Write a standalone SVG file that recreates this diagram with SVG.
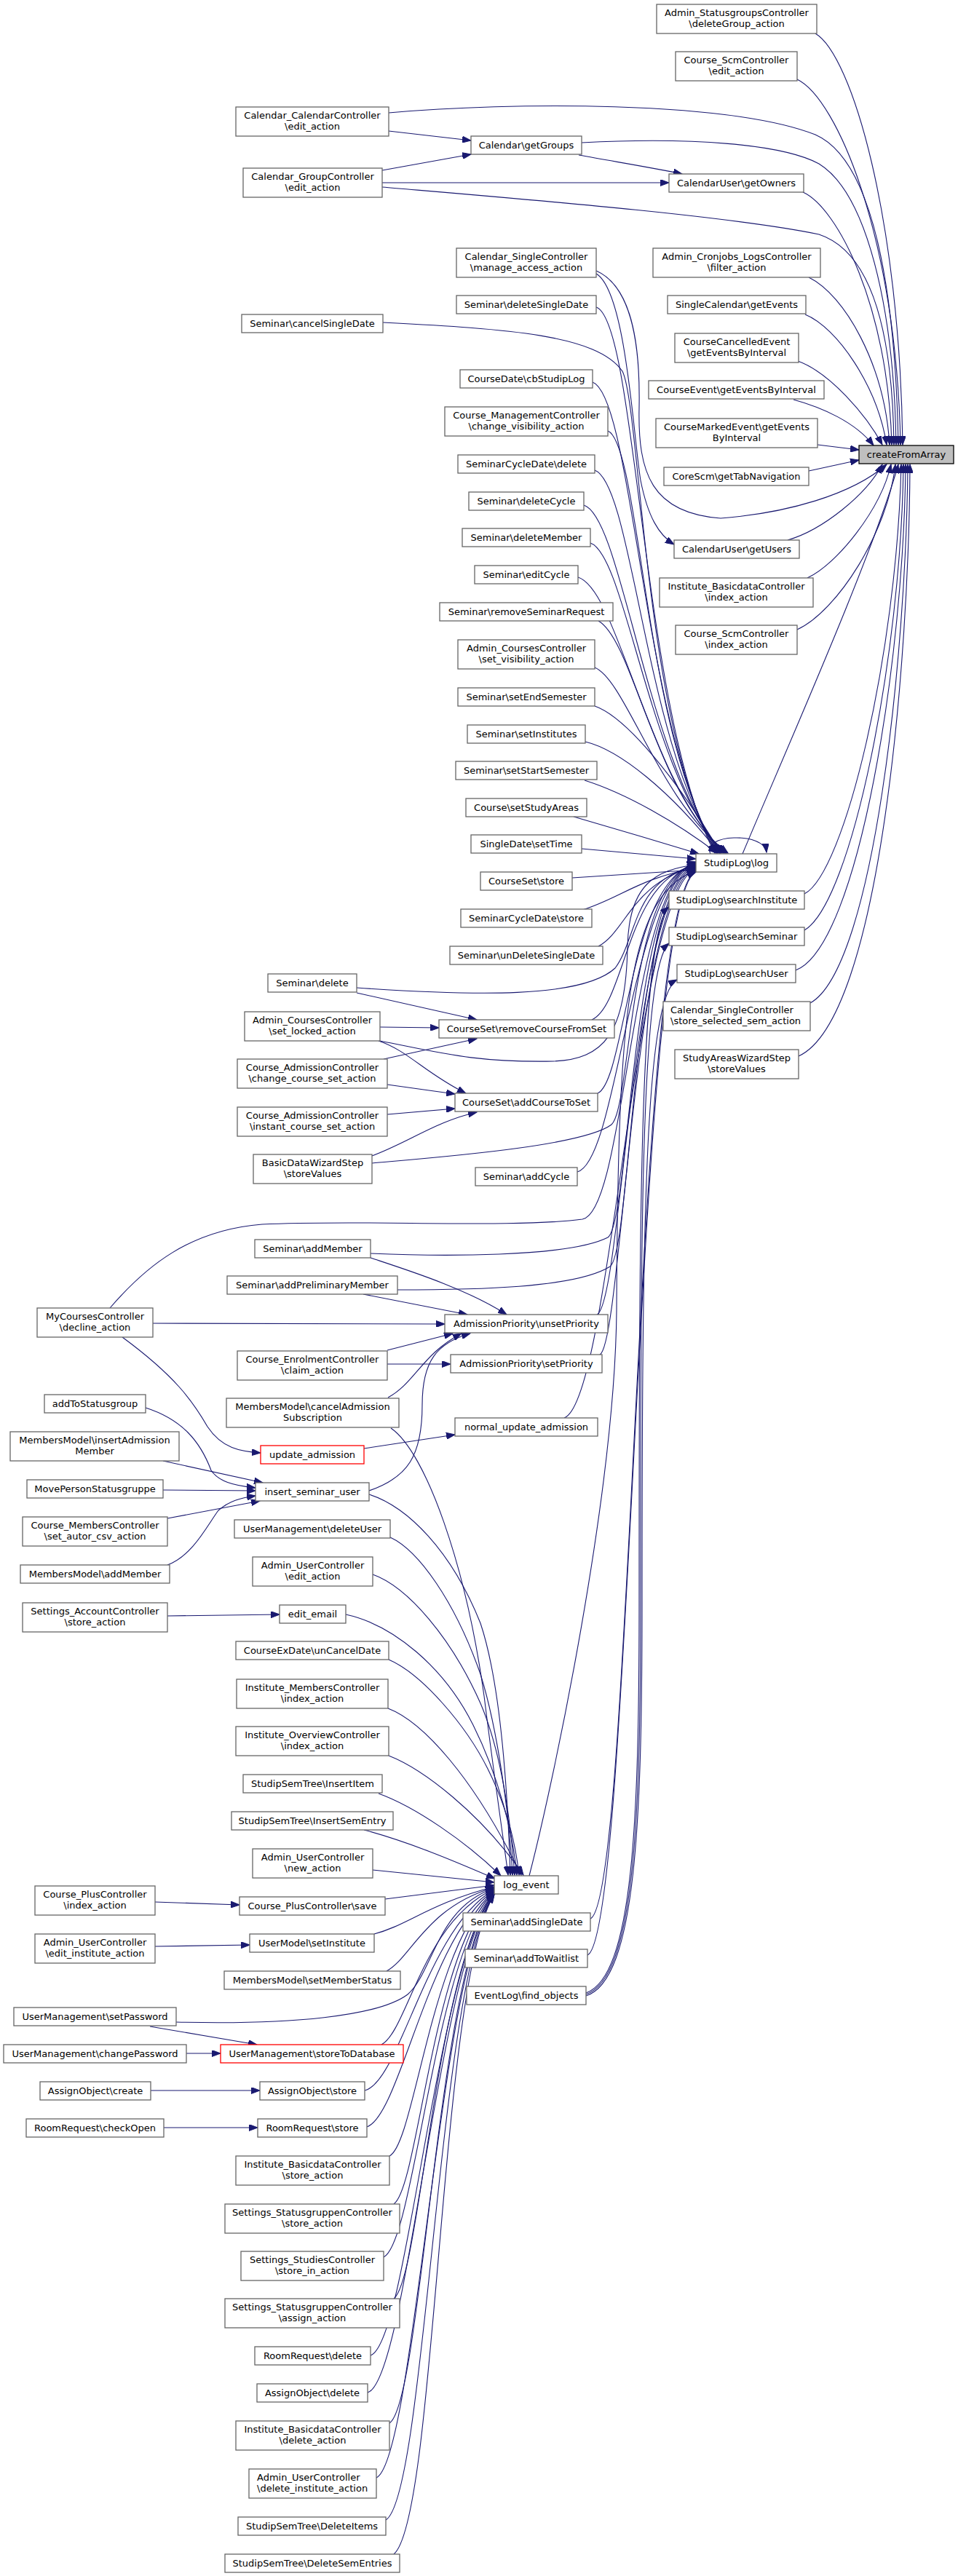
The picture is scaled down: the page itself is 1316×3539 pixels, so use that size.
<svg xmlns="http://www.w3.org/2000/svg" width="1316" height="3539" viewBox="0 0 1316 3539">
<style>
.n rect{fill:#fff;stroke:#666;stroke-width:1.3}
.r rect{fill:#fff;stroke:#ff0000;stroke-width:1.3}
.root rect{fill:#bfbfbf;stroke:#000;stroke-width:1.3}
text{font-family:"DejaVu Sans",Verdana,sans-serif;font-size:13px;fill:#000;text-anchor:middle}
text.l{text-anchor:start}
.e path{fill:none;stroke:#191970;stroke-width:1.1;marker-end:url(#a)}
</style>
<defs>
<marker id="a" markerUnits="userSpaceOnUse" markerWidth="13" markerHeight="9" refX="12" refY="4.5" orient="auto" viewBox="0 0 13 9"><path d="M0,0 L12,4.5 L0,9 z" fill="#191970" stroke="#191970" stroke-width="1"/></marker>
</defs>
<rect x="0" y="0" width="1316" height="3539" fill="#fff"/>
<g id="edges" class="e">
<path d="M1120,46 C1170,75 1236,300 1240,611"/>
<path d="M1095,109 C1150,135 1232,330 1237,611"/>
<path d="M534,155 C700,140 1000,138 1120,185 C1200,220 1230,400 1234,611"/>
<path d="M799,196 C950,188 1075,198 1125,225 C1190,265 1228,420 1231,611"/>
<path d="M525,257 C700,272 1000,296 1125,322 C1195,345 1226,450 1228,611"/>
<path d="M1103,264 C1150,285 1220,420 1225,611"/>
<path d="M1111,381 C1160,405 1215,500 1222,611"/>
<path d="M1106,432 C1150,450 1205,530 1218,611"/>
<path d="M1096,496 C1140,512 1190,570 1212,611"/>
<path d="M1090,549 C1130,560 1175,580 1200,612"/>
<path d="M1123,611 L1180,618"/>
<path d="M1111,647 L1180,632"/>
<path d="M1082,742 C1130,728 1190,680 1212,638"/>
<path d="M819,372 C860,390 880,450 878,560 C876,650 895,705 990,712 C1080,705 1170,680 1218,638"/>
<path d="M1109,794 C1150,775 1210,700 1224,638"/>
<path d="M1095,865 C1150,840 1220,730 1230,638"/>
<path d="M1020,1173 C1080,1030 1200,760 1234,638"/>
<path d="M1105,1228 C1160,1200 1232,900 1238,638"/>
<path d="M1105,1278 C1170,1240 1238,900 1241,638"/>
<path d="M1093,1333 C1180,1300 1242,900 1244,638"/>
<path d="M1113,1378 C1200,1330 1245,900 1247,638"/>
<path d="M1097,1451 C1210,1400 1249,900 1250,638"/>
<path d="M534,180 L647,193"/>
<path d="M525,234 L647,212"/>
<path d="M795,213 C850,223 900,231 937,239"/>
<path d="M525,251 L919,251"/>
<path d="M819,376 C860,400 870,600 880,660 C890,710 905,735 926,748"/>
<path d="M819,422 C875,440 882,985 982,1172"/>
<path d="M526,443 C700,452 820,460 855,510 C880,560 885,1000 984,1172"/>
<path d="M814,525 C870,545 884,1010 986,1172"/>
<path d="M835,592 C880,610 886,1025 988,1172"/>
<path d="M817,646 C870,665 888,1040 990,1172"/>
<path d="M802,694 C855,710 888,1050 992,1172"/>
<path d="M811,746 C860,762 892,1065 994,1172"/>
<path d="M794,793 C850,810 890,1075 996,1172"/>
<path d="M822,853 C870,880 900,1090 998,1172"/>
<path d="M817,917 C860,935 905,1100 1000,1172"/>
<path d="M817,970 C860,985 930,1070 990,1172"/>
<path d="M804,1019 C850,1030 920,1085 988,1172"/>
<path d="M803,1072 C860,1090 930,1130 985,1172"/>
<path d="M788,1122 C850,1140 900,1155 960,1173"/>
<path d="M799,1166 L956,1180"/>
<path d="M786,1206 L956,1195"/>
<path d="M800,1250 C850,1235 880,1205 956,1193"/>
<path d="M822,1300 C860,1280 870,1210 956,1191"/>
<path d="M490,1357 C650,1368 800,1372 845,1330 C875,1290 870,1205 956,1190"/>
<path d="M813,1401 C860,1380 860,1205 956,1189"/>
<path d="M522,1430 C600,1445 650,1460 760,1458 C830,1455 860,1420 862,1300 C864,1215 900,1195 956,1188"/>
<path d="M821,1502 C860,1485 864,1205 956,1187"/>
<path d="M511,1598 C600,1590 800,1575 840,1545 C868,1520 862,1210 956,1186"/>
<path d="M793,1610 C850,1595 866,1210 956,1185"/>
<path d="M151,1797 C200,1740 260,1690 360,1682 C500,1675 700,1688 800,1675 C860,1665 866,1210 956,1184"/>
<path d="M509,1722 C600,1726 780,1728 835,1700 C866,1680 866,1212 956,1186"/>
<path d="M546,1772 C650,1772 790,1770 838,1740 C868,1720 868,1214 956,1188"/>
<path d="M820,1806 C855,1790 868,1216 956,1190"/>
<path d="M824,1861 C855,1845 870,1218 956,1192"/>
<path d="M775,1948 C840,1925 872,1220 956,1194"/>
<path d="M727,2577 C760,2450 845,2050 847,1800 C849,1400 860,1230 956,1196"/>
<path d="M811,2636 C870,2610 872,1230 956,1197"/>
<path d="M807,2686 C868,2660 874,1232 956,1198"/>
<path d="M805,2738 C870,2715 878,2500 878,2200 C878,1700 878,1280 919,1246"/>
<path d="M805,2740 C872,2717 880,2500 880,2200 C880,1700 880,1330 919,1296"/>
<path d="M805,2742 C874,2720 882,2500 882,2200 C882,1700 885,1370 930,1346"/>
<path d="M537,1962 C585,1995 640,2150 665,2330 C680,2450 692,2530 698,2576"/>
<path d="M507,2053 C560,2070 620,2130 660,2230 C690,2320 698,2480 701,2576"/>
<path d="M536,2112 C575,2130 625,2200 660,2300 C685,2380 700,2500 704,2576"/>
<path d="M512,2163 C560,2180 620,2250 660,2340 C690,2410 702,2510 707,2576"/>
<path d="M475,2218 C540,2232 610,2290 650,2370 C685,2440 705,2520 710,2576"/>
<path d="M534,2280 C580,2300 640,2370 670,2430 C695,2480 708,2530 713,2576"/>
<path d="M533,2347 C580,2365 650,2440 716,2576"/>
<path d="M534,2412 C580,2430 660,2490 719,2576"/>
<path d="M520,2464 C570,2482 640,2530 688,2577"/>
<path d="M500,2514 C560,2530 620,2555 680,2581"/>
<path d="M512,2569 C580,2576 630,2581 679,2586"/>
<path d="M529,2609 L679,2590"/>
<path d="M514,2657 C560,2645 590,2615 679,2592"/>
<path d="M531,2708 C565,2690 585,2620 679,2593"/>
<path d="M242,2778 C400,2782 520,2770 560,2740 C595,2710 600,2620 679,2594"/>
<path d="M524,2809 C560,2790 580,2640 679,2595"/>
<path d="M501,2872 C550,2860 585,2650 679,2596"/>
<path d="M504,2922 C550,2906 588,2660 679,2597"/>
<path d="M535,2962 C570,2945 592,2670 679,2598"/>
<path d="M541,3028 C575,3005 594,2680 679,2599"/>
<path d="M527,3101 C570,3080 596,2690 679,2600"/>
<path d="M541,3158 C578,3130 598,2700 679,2600"/>
<path d="M509,3236 C560,3220 598,2700 679,2601"/>
<path d="M505,3287 C560,3270 600,2700 679,2601"/>
<path d="M535,3329 C580,3300 600,2710 679,2602"/>
<path d="M517,3404 C570,3380 602,2710 679,2602"/>
<path d="M530,3462 C585,3430 602,2720 679,2602"/>
<path d="M541,3509 C600,3460 604,2720 679,2603"/>
<path d="M490,1364 L655,1401"/>
<path d="M522,1411 L603,1412"/>
<path d="M520,1430 C560,1443 585,1475 640,1502"/>
<path d="M527,1455 L655,1427"/>
<path d="M532,1490 L625,1503"/>
<path d="M532,1531 L625,1523"/>
<path d="M511,1588 C560,1570 600,1540 655,1528"/>
<path d="M509,1728 C560,1745 640,1770 696,1806"/>
<path d="M499,1778 L642,1806"/>
<path d="M210,1818 L611,1819"/>
<path d="M168,1837 C240,1890 265,1925 285,1960 C305,1990 330,1994 358,1996"/>
<path d="M532,1855 L622,1832"/>
<path d="M532,1874 L619,1874"/>
<path d="M533,1920 C570,1900 580,1860 634,1832"/>
<path d="M507,2048 C560,2030 580,2000 580,1930 C580,1870 600,1845 646,1832"/>
<path d="M500,1990 L625,1971"/>
<path d="M200,1934 C250,1950 275,1980 290,2020 C300,2035 320,2041 351,2044"/>
<path d="M224,2007 L361,2037"/>
<path d="M224,2047 L351,2048"/>
<path d="M230,2086 L357,2062"/>
<path d="M230,2150 C265,2137 285,2095 300,2075 C315,2062 330,2058 351,2055"/>
<path d="M230,2220 L384,2218"/>
<path d="M213,2613 L329,2617"/>
<path d="M213,2674 L343,2672"/>
<path d="M206,2784 L353,2809"/>
<path d="M256,2821 L303,2821"/>
<path d="M207,2872 L357,2872"/>
<path d="M225,2923 L354,2923"/>
<path d="M976,1173 C962,1146 1050,1142 1053,1171"/>
</g>
<g id="n_createFromArray" class="root"><rect x="1180" y="612" width="130" height="25"/><text x="1245" y="629">createFromArray</text></g>
<g id="n_A1" class="n"><rect x="902" y="6" width="220" height="40"/><text x="1012" y="22">Admin_StatusgroupsController</text><text x="1012" y="37">\deleteGroup_action</text></g>
<g id="n_A2" class="n"><rect x="928" y="71" width="167" height="40"/><text x="1011.5" y="87">Course_ScmController</text><text x="1011.5" y="102">\edit_action</text></g>
<g id="n_A3" class="n"><rect x="919" y="239" width="185" height="25"/><text x="1011.5" y="256">CalendarUser\getOwners</text></g>
<g id="n_A4" class="n"><rect x="897" y="341" width="230" height="40"/><text x="1012" y="357">Admin_Cronjobs_LogsController</text><text x="1012" y="372">\filter_action</text></g>
<g id="n_A5" class="n"><rect x="917" y="406" width="190" height="25"/><text x="1012" y="423">SingleCalendar\getEvents</text></g>
<g id="n_A6" class="n"><rect x="927" y="458" width="170" height="40"/><text x="1012" y="474">CourseCancelledEvent</text><text x="1012" y="489">\getEventsByInterval</text></g>
<g id="n_A7" class="n"><rect x="891" y="523" width="241" height="25"/><text x="1011.5" y="540">CourseEvent\getEventsByInterval</text></g>
<g id="n_A8" class="n"><rect x="901" y="575" width="222" height="40"/><text x="1012" y="591">CourseMarkedEvent\getEvents</text><text x="1012" y="606">ByInterval</text></g>
<g id="n_A9" class="n"><rect x="912" y="642" width="199" height="25"/><text x="1011.5" y="659">CoreScm\getTabNavigation</text></g>
<g id="n_A10" class="n"><rect x="926" y="742" width="172" height="25"/><text x="1012" y="759">CalendarUser\getUsers</text></g>
<g id="n_A11" class="n"><rect x="906" y="794" width="211" height="40"/><text x="1011.5" y="810">Institute_BasicdataController</text><text x="1011.5" y="825">\index_action</text></g>
<g id="n_A12" class="n"><rect x="928" y="859" width="167" height="40"/><text x="1011.5" y="875">Course_ScmController</text><text x="1011.5" y="890">\index_action</text></g>
<g id="n_A13" class="n"><rect x="956" y="1173" width="111" height="25"/><text x="1011.5" y="1190">StudipLog\log</text></g>
<g id="n_A14" class="n"><rect x="919" y="1224" width="186" height="25"/><text x="1012" y="1241">StudipLog\searchInstitute</text></g>
<g id="n_A15" class="n"><rect x="919" y="1274" width="186" height="25"/><text x="1012" y="1291">StudipLog\searchSeminar</text></g>
<g id="n_A16" class="n"><rect x="930" y="1325" width="163" height="25"/><text x="1011.5" y="1342">StudipLog\searchUser</text></g>
<g id="n_A17" class="n"><rect x="911" y="1376" width="202" height="40"/><text class="l" x="921" y="1392">Calendar_SingleController</text><text class="l" x="921" y="1407">\store_selected_sem_action</text></g>
<g id="n_A18" class="n"><rect x="927" y="1442" width="170" height="40"/><text x="1012" y="1458">StudyAreasWizardStep</text><text x="1012" y="1473">\storeValues</text></g>
<g id="n_B1" class="n"><rect x="647" y="187" width="152" height="25"/><text x="723" y="204">Calendar\getGroups</text></g>
<g id="n_B2" class="n"><rect x="627" y="341" width="192" height="40"/><text x="723" y="357">Calendar_SingleController</text><text x="723" y="372">\manage_access_action</text></g>
<g id="n_B3" class="n"><rect x="627" y="406" width="192" height="25"/><text x="723" y="423">Seminar\deleteSingleDate</text></g>
<g id="n_B4" class="n"><rect x="632" y="508" width="182" height="25"/><text x="723" y="525">CourseDate\cbStudipLog</text></g>
<g id="n_B5" class="n"><rect x="611" y="559" width="224" height="40"/><text x="723" y="575">Course_ManagementController</text><text x="723" y="590">\change_visibility_action</text></g>
<g id="n_B6" class="n"><rect x="629" y="625" width="188" height="25"/><text x="723" y="642">SeminarCycleDate\delete</text></g>
<g id="n_B7" class="n"><rect x="644" y="676" width="158" height="25"/><text x="723" y="693">Seminar\deleteCycle</text></g>
<g id="n_B8" class="n"><rect x="635" y="726" width="176" height="25"/><text x="723" y="743">Seminar\deleteMember</text></g>
<g id="n_B9" class="n"><rect x="652" y="777" width="142" height="25"/><text x="723" y="794">Seminar\editCycle</text></g>
<g id="n_B10" class="n"><rect x="604" y="828" width="238" height="25"/><text x="723" y="845">Seminar\removeSeminarRequest</text></g>
<g id="n_B11" class="n"><rect x="629" y="879" width="188" height="40"/><text x="723" y="895">Admin_CoursesController</text><text x="723" y="910">\set_visibility_action</text></g>
<g id="n_B12" class="n"><rect x="629" y="945" width="188" height="25"/><text x="723" y="962">Seminar\setEndSemester</text></g>
<g id="n_B13" class="n"><rect x="642" y="996" width="162" height="25"/><text x="723" y="1013">Seminar\setInstitutes</text></g>
<g id="n_B14" class="n"><rect x="626" y="1046" width="194" height="25"/><text x="723" y="1063">Seminar\setStartSemester</text></g>
<g id="n_B15" class="n"><rect x="640" y="1097" width="166" height="25"/><text x="723" y="1114">Course\setStudyAreas</text></g>
<g id="n_B16" class="n"><rect x="647" y="1147" width="152" height="25"/><text x="723" y="1164">SingleDate\setTime</text></g>
<g id="n_B17" class="n"><rect x="660" y="1198" width="126" height="25"/><text x="723" y="1215">CourseSet\store</text></g>
<g id="n_B18" class="n"><rect x="633" y="1249" width="180" height="25"/><text x="723" y="1266">SeminarCycleDate\store</text></g>
<g id="n_B19" class="n"><rect x="618" y="1300" width="210" height="25"/><text x="723" y="1317">Seminar\unDeleteSingleDate</text></g>
<g id="n_B20" class="n"><rect x="603" y="1401" width="241" height="25"/><text x="723.5" y="1418">CourseSet\removeCourseFromSet</text></g>
<g id="n_B21" class="n"><rect x="625" y="1502" width="196" height="25"/><text x="723" y="1519">CourseSet\addCourseToSet</text></g>
<g id="n_B22" class="n"><rect x="653" y="1604" width="140" height="25"/><text x="723" y="1621">Seminar\addCycle</text></g>
<g id="n_B23" class="n"><rect x="611" y="1806" width="224" height="25"/><text x="723" y="1823">AdmissionPriority\unsetPriority</text></g>
<g id="n_B24" class="n"><rect x="619" y="1861" width="208" height="25"/><text x="723" y="1878">AdmissionPriority\setPriority</text></g>
<g id="n_B25" class="n"><rect x="625" y="1948" width="196" height="25"/><text x="723" y="1965">normal_update_admission</text></g>
<g id="n_B26" class="n"><rect x="679" y="2577" width="88" height="25"/><text x="723" y="2594">log_event</text></g>
<g id="n_B27" class="n"><rect x="636" y="2628" width="175" height="25"/><text x="723.5" y="2645">Seminar\addSingleDate</text></g>
<g id="n_B28" class="n"><rect x="639" y="2678" width="168" height="25"/><text x="723" y="2695">Seminar\addToWaitlist</text></g>
<g id="n_B29" class="n"><rect x="641" y="2729" width="164" height="25"/><text x="723" y="2746">EventLog\find_objects</text></g>
<g id="n_C1" class="n"><rect x="324" y="147" width="210" height="40"/><text x="429" y="163">Calendar_CalendarController</text><text x="429" y="178">\edit_action</text></g>
<g id="n_C2" class="n"><rect x="334" y="231" width="191" height="40"/><text x="429.5" y="247">Calendar_GroupController</text><text x="429.5" y="262">\edit_action</text></g>
<g id="n_C3" class="n"><rect x="332" y="432" width="194" height="25"/><text x="429" y="449">Seminar\cancelSingleDate</text></g>
<g id="n_C4" class="n"><rect x="368" y="1338" width="122" height="25"/><text x="429" y="1355">Seminar\delete</text></g>
<g id="n_C5" class="n"><rect x="336" y="1390" width="186" height="40"/><text x="429" y="1406">Admin_CoursesController</text><text x="429" y="1421">\set_locked_action</text></g>
<g id="n_C6" class="n"><rect x="326" y="1455" width="206" height="40"/><text x="429" y="1471">Course_AdmissionController</text><text x="429" y="1486">\change_course_set_action</text></g>
<g id="n_C7" class="n"><rect x="326" y="1521" width="206" height="40"/><text x="429" y="1537">Course_AdmissionController</text><text x="429" y="1552">\instant_course_set_action</text></g>
<g id="n_C8" class="n"><rect x="348" y="1586" width="163" height="40"/><text x="429.5" y="1602">BasicDataWizardStep</text><text x="429.5" y="1617">\storeValues</text></g>
<g id="n_C9" class="n"><rect x="350" y="1703" width="159" height="25"/><text x="429.5" y="1720">Seminar\addMember</text></g>
<g id="n_C10" class="n"><rect x="312" y="1753" width="234" height="25"/><text x="429" y="1770">Seminar\addPreliminaryMember</text></g>
<g id="n_C11" class="n"><rect x="326" y="1856" width="206" height="40"/><text x="429" y="1872">Course_EnrolmentController</text><text x="429" y="1887">\claim_action</text></g>
<g id="n_C12" class="n"><rect x="311" y="1921" width="237" height="40"/><text x="429.5" y="1937">MembersModel\cancelAdmission</text><text x="429.5" y="1952">Subscription</text></g>
<g id="n_C13" class="r"><rect x="358" y="1986" width="142" height="25"/><text x="429" y="2003">update_admission</text></g>
<g id="n_C14" class="n"><rect x="351" y="2037" width="156" height="25"/><text x="429" y="2054">insert_seminar_user</text></g>
<g id="n_C15" class="n"><rect x="322" y="2088" width="214" height="25"/><text x="429" y="2105">UserManagement\deleteUser</text></g>
<g id="n_C16" class="n"><rect x="347" y="2139" width="165" height="40"/><text x="429.5" y="2155">Admin_UserController</text><text x="429.5" y="2170">\edit_action</text></g>
<g id="n_C17" class="n"><rect x="384" y="2205" width="91" height="25"/><text x="429.5" y="2222">edit_email</text></g>
<g id="n_C18" class="n"><rect x="324" y="2255" width="210" height="25"/><text x="429" y="2272">CourseExDate\unCancelDate</text></g>
<g id="n_C19" class="n"><rect x="325" y="2307" width="208" height="40"/><text x="429" y="2323">Institute_MembersController</text><text x="429" y="2338">\index_action</text></g>
<g id="n_C20" class="n"><rect x="324" y="2372" width="210" height="40"/><text x="429" y="2388">Institute_OverviewController</text><text x="429" y="2403">\index_action</text></g>
<g id="n_C21" class="n"><rect x="334" y="2438" width="191" height="25"/><text x="429.5" y="2455">StudipSemTree\InsertItem</text></g>
<g id="n_C22" class="n"><rect x="318" y="2489" width="222" height="25"/><text x="429" y="2506">StudipSemTree\InsertSemEntry</text></g>
<g id="n_C23" class="n"><rect x="347" y="2540" width="165" height="40"/><text x="429.5" y="2556">Admin_UserController</text><text x="429.5" y="2571">\new_action</text></g>
<g id="n_C24" class="n"><rect x="329" y="2606" width="200" height="25"/><text x="429" y="2623">Course_PlusController\save</text></g>
<g id="n_C25" class="n"><rect x="343" y="2657" width="171" height="25"/><text x="428.5" y="2674">UserModel\setInstitute</text></g>
<g id="n_C26" class="n"><rect x="308" y="2708" width="242" height="25"/><text x="429" y="2725">MembersModel\setMemberStatus</text></g>
<g id="n_C27" class="r"><rect x="303" y="2809" width="251" height="25"/><text x="428.5" y="2826">UserManagement\storeToDatabase</text></g>
<g id="n_C28" class="n"><rect x="357" y="2860" width="144" height="25"/><text x="429" y="2877">AssignObject\store</text></g>
<g id="n_C29" class="n"><rect x="354" y="2911" width="150" height="25"/><text x="429" y="2928">RoomRequest\store</text></g>
<g id="n_C30" class="n"><rect x="324" y="2962" width="211" height="40"/><text x="429.5" y="2978">Institute_BasicdataController</text><text x="429.5" y="2993">\store_action</text></g>
<g id="n_C31" class="n"><rect x="309" y="3028" width="240" height="40"/><text x="429" y="3044">Settings_StatusgruppenController</text><text x="429" y="3059">\store_action</text></g>
<g id="n_C32" class="n"><rect x="331" y="3093" width="196" height="40"/><text x="429" y="3109">Settings_StudiesController</text><text x="429" y="3124">\store_in_action</text></g>
<g id="n_C33" class="n"><rect x="309" y="3158" width="240" height="40"/><text x="429" y="3174">Settings_StatusgruppenController</text><text x="429" y="3189">\assign_action</text></g>
<g id="n_C34" class="n"><rect x="350" y="3224" width="159" height="25"/><text x="429.5" y="3241">RoomRequest\delete</text></g>
<g id="n_C35" class="n"><rect x="353" y="3275" width="152" height="25"/><text x="429" y="3292">AssignObject\delete</text></g>
<g id="n_C36" class="n"><rect x="324" y="3326" width="211" height="40"/><text x="429.5" y="3342">Institute_BasicdataController</text><text x="429.5" y="3357">\delete_action</text></g>
<g id="n_C37" class="n"><rect x="342" y="3392" width="175" height="40"/><text class="l" x="353" y="3408">Admin_UserController</text><text class="l" x="353" y="3423">\delete_institute_action</text></g>
<g id="n_C38" class="n"><rect x="327" y="3458" width="203" height="25"/><text x="428.5" y="3475">StudipSemTree\DeleteItems</text></g>
<g id="n_C39" class="n"><rect x="309" y="3509" width="240" height="25"/><text x="429" y="3526">StudipSemTree\DeleteSemEntries</text></g>
<g id="n_D1" class="n"><rect x="51" y="1797" width="159" height="40"/><text x="130.5" y="1813">MyCoursesController</text><text x="130.5" y="1828">\decline_action</text></g>
<g id="n_D2" class="n"><rect x="61" y="1916" width="139" height="25"/><text x="130.5" y="1933">addToStatusgroup</text></g>
<g id="n_D3" class="n"><rect x="14" y="1967" width="232" height="40"/><text x="130" y="1983">MembersModel\insertAdmission</text><text x="130" y="1998">Member</text></g>
<g id="n_D4" class="n"><rect x="37" y="2033" width="187" height="25"/><text x="130.5" y="2050">MovePersonStatusgruppe</text></g>
<g id="n_D5" class="n"><rect x="31" y="2084" width="199" height="40"/><text x="130.5" y="2100">Course_MembersController</text><text x="130.5" y="2115">\set_autor_csv_action</text></g>
<g id="n_D6" class="n"><rect x="28" y="2150" width="205" height="25"/><text x="130.5" y="2167">MembersModel\addMember</text></g>
<g id="n_D7" class="n"><rect x="31" y="2202" width="199" height="40"/><text x="130.5" y="2218">Settings_AccountController</text><text x="130.5" y="2233">\store_action</text></g>
<g id="n_D8" class="n"><rect x="48" y="2591" width="165" height="40"/><text x="130.5" y="2607">Course_PlusController</text><text x="130.5" y="2622">\index_action</text></g>
<g id="n_D9" class="n"><rect x="48" y="2657" width="165" height="40"/><text x="130.5" y="2673">Admin_UserController</text><text x="130.5" y="2688">\edit_institute_action</text></g>
<g id="n_D10" class="n"><rect x="19" y="2758" width="223" height="25"/><text x="130.5" y="2775">UserManagement\setPassword</text></g>
<g id="n_D11" class="n"><rect x="5" y="2809" width="251" height="25"/><text x="130.5" y="2826">UserManagement\changePassword</text></g>
<g id="n_D12" class="n"><rect x="55" y="2860" width="152" height="25"/><text x="131" y="2877">AssignObject\create</text></g>
<g id="n_D13" class="n"><rect x="36" y="2911" width="189" height="25"/><text x="130.5" y="2928">RoomRequest\checkOpen</text></g>
</svg>
